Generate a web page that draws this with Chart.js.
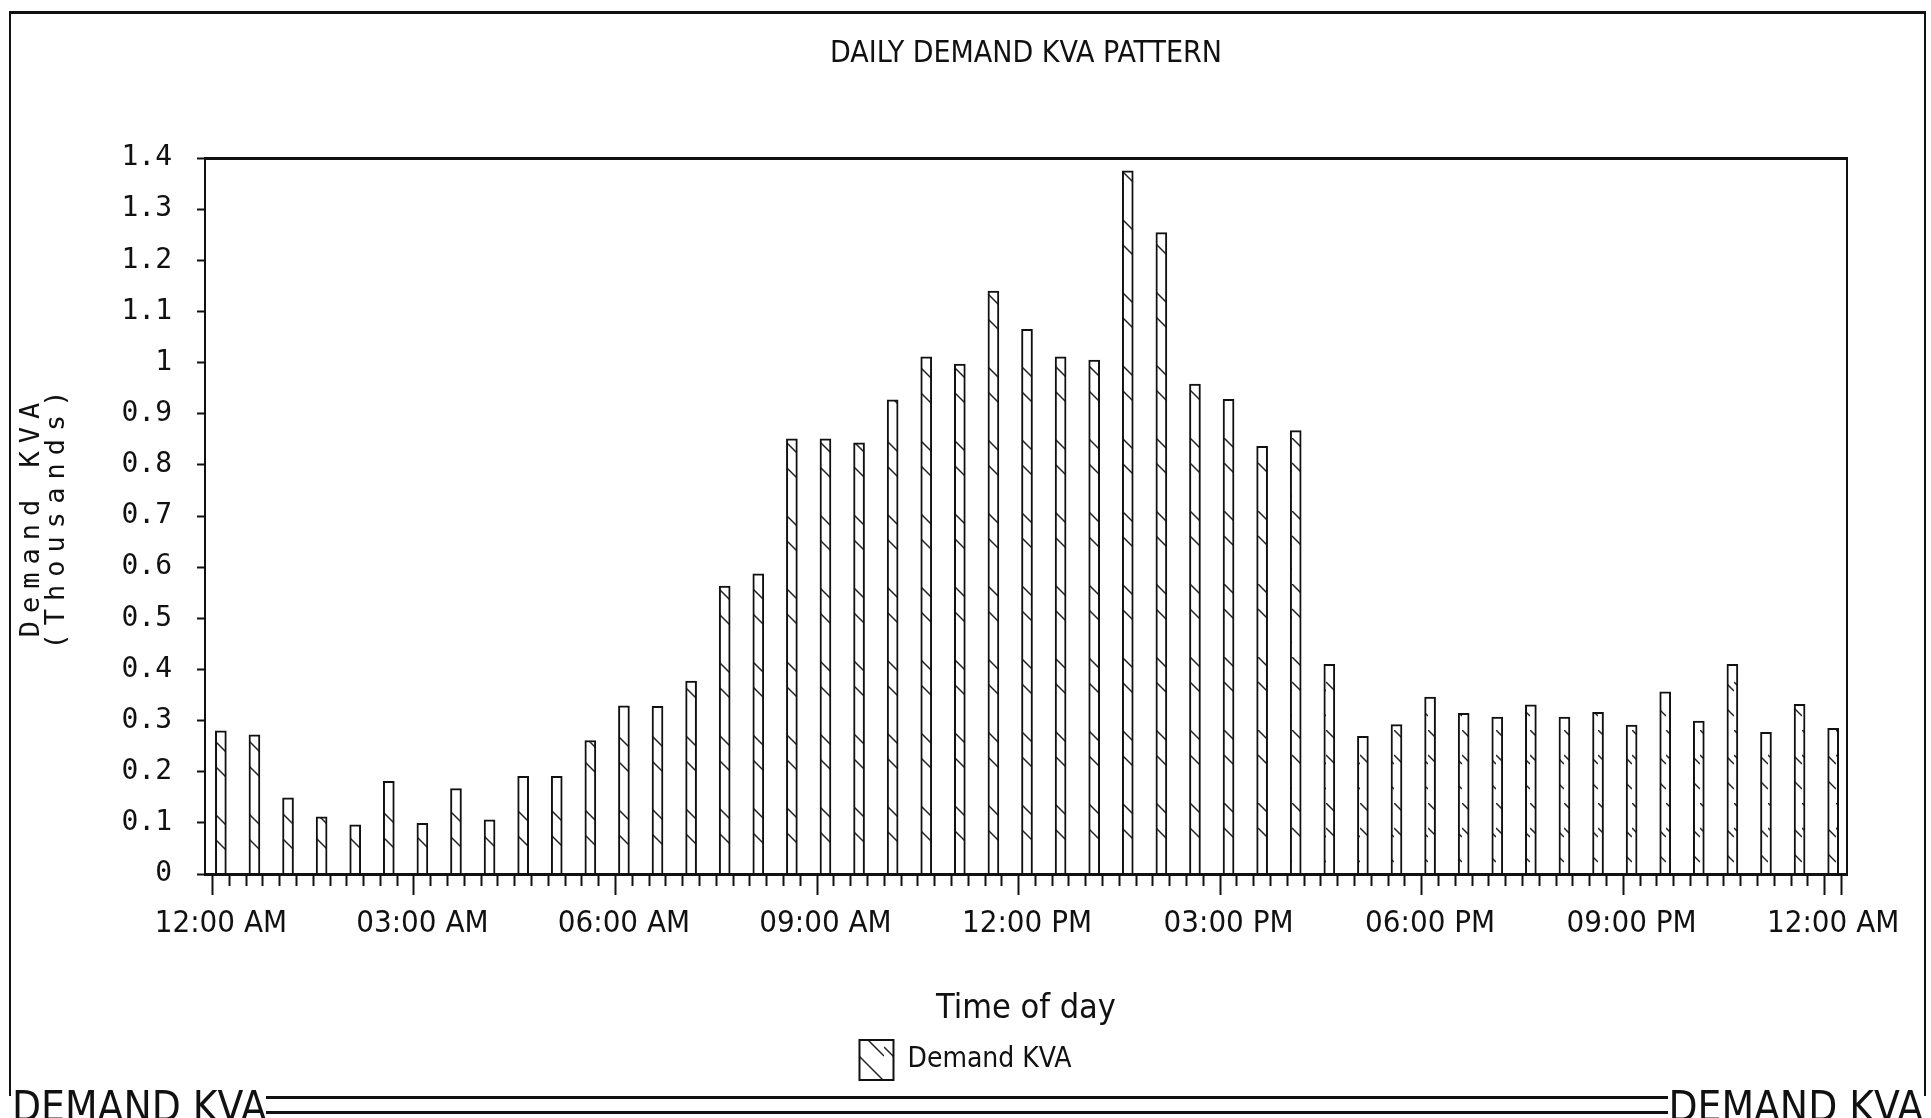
<!DOCTYPE html>
<html>
<head>
<meta charset="utf-8">
<title>Daily Demand KVA Pattern</title>
<script src="https://cdn.jsdelivr.net/npm/chart.js@4.4.1/dist/chart.umd.min.js"></script>
<style>
  html, body { margin: 0; padding: 0; background: #fff; }
  #wrap { position: relative; width: 1931px; height: 1118px; overflow: hidden; background: #fff; }
  #demand { position: absolute; left: 0; top: 0; }
  .frame { position: absolute; left: 9px; top: 11px; width: 1913px; height: 1082px;
           border-left: 2px solid #111; border-right: 2px solid #111; border-top: 3px solid #111; }
  .foot { position: absolute; top: 1082px; line-height: 42px; color: #111;
          font: 42px 'Liberation Sans Narrow', 'DejaVu Sans Condensed', 'Liberation Sans', sans-serif; }
  .foot.left { left: 12px; }
  .foot.right { right: 8px; }
  .rule { position: absolute; left: 266px; width: 1402px; top: 1096px; height: 12px;
          border-top: 3px solid #111; border-bottom: 3px solid #111; }
</style>
</head>
<body>
<div id="wrap">
  <canvas id="demand" width="1931" height="1118"></canvas>
  <div class="frame"></div>
  <div class="foot left">DEMAND KVA</div>
  <div class="rule"></div>
  <div class="foot right">DEMAND KVA</div>
</div>
<script>
// half-hour readings, hours after midnight
const halfHours = [0, 0.5, 1, 1.5, 2, 2.5, 3, 3.5, 4, 4.5, 5, 5.5, 6, 6.5, 7, 7.5, 8, 8.5, 9, 9.5,
  10, 10.5, 11, 11.5, 12, 12.5, 13, 13.5, 14, 14.5, 15, 15.5, 16, 16.5, 17, 17.5, 18, 18.5, 19, 19.5,
  20, 20.5, 21, 21.5, 22, 22.5, 23, 23.5, 24];

// demand in thousands of KVA
const demandKva = [0.28, 0.272, 0.149, 0.112, 0.096, 0.181, 0.099, 0.167, 0.106, 0.191,
  0.191, 0.261, 0.329, 0.328, 0.377, 0.563, 0.587, 0.851, 0.851, 0.843,
  0.927, 1.011, 0.997, 1.14, 1.065, 1.011, 1.005, 1.375, 1.254, 0.958,
  0.928, 0.836, 0.867, 0.41, 0.269, 0.292, 0.346, 0.314, 0.307, 0.331,
  0.307, 0.316, 0.291, 0.356, 0.299, 0.41, 0.277, 0.332, 0.285];

const timeLabels = ['12:00 AM', '03:00 AM', '06:00 AM', '09:00 AM', '12:00 PM',
  '03:00 PM', '06:00 PM', '09:00 PM', '12:00 AM'];

const yMax = 1.4;
const yStep = 0.1;

const narrow = "'Liberation Sans Narrow', 'DejaVu Sans Condensed', 'Liberation Sans', sans-serif";
const mono = "'DejaVu Sans Mono', monospace";
const ink = '#111';

const isMajor = (v) => Math.abs(v / 3 - Math.round(v / 3)) < 1e-6;

// back-slash hatching like the plotter fill
function hatch() {
  const c = document.createElement('canvas');
  c.width = 34;
  c.height = 73;
  const g = c.getContext('2d');
  g.fillStyle = '#fff';
  g.fillRect(0, 0, 34, 73);
  g.strokeStyle = '#222';
  g.lineWidth = 1.5;
  g.beginPath();
  g.moveTo(0, 0); g.lineTo(34, 34);
  g.moveTo(0, 25); g.lineTo(34, 59);
  g.stroke();
  return g.createPattern(c, 'repeat');
}

// the y title on the original is set very wide
const spacedTitle = {
  id: 'spacedTitle',
  beforeDraw(chart) {
    const s = chart.scales.y;
    if (!s || s._spaced) return;
    const draw = s.drawTitle;
    s.drawTitle = function () {
      this.ctx.save();
      this.ctx.letterSpacing = '8px';
      draw.call(this);
      this.ctx.restore();
    };
    s._spaced = true;
  }
};

Chart.defaults.font.family = narrow;
Chart.defaults.color = ink;

new Chart(document.getElementById('demand'), {
  type: 'bar',
  data: {
    datasets: [{
      label: 'Demand KVA',
      data: halfHours.map((h, i) => ({ x: h, y: demandKva[i] })),
      xAxisID: 'x',
      yAxisID: 'y',
      backgroundColor: hatch(),
      borderColor: ink,
      borderWidth: 2,
      barThickness: 11
    }]
  },
  options: {
    responsive: false,
    animation: false,
    layout: { padding: { left: 0, right: 0, top: 0, bottom: 28 } },
    plugins: {
      tooltip: { enabled: false },
      legend: {
        position: 'bottom',
        labels: { boxWidth: 34, boxHeight: 40, padding: 10, color: ink, font: { family: narrow, size: 28 } }
      }
    },
    scales: {
      x: {
        type: 'linear',
        position: 'bottom',
        min: -0.11,
        max: 24.08,
        grid: {
          drawOnChartArea: false,
          tickLength: 21,
          tickWidth: 2,
          tickColor: ink,
          // short marks every quarter hour, long ones every three hours
          tickBorderDash: (c) => (c.tick && !isMajor(c.tick.value) ? [10, 40] : [])
        },
        border: { color: ink, width: 3, z: 1 },
        ticks: {
          stepSize: 0.25,
          includeBounds: false,
          autoSkip: false,
          maxRotation: 0,
          minRotation: 0,
          padding: 10,
          color: ink,
          font: { family: narrow, size: 31 },
          callback: (v) => (isMajor(v) ? timeLabels[Math.round(v / 3)] : '')
        },
        title: {
          display: true,
          text: 'Time of day',
          color: ink,
          font: { family: narrow, size: 34 },
          padding: { top: 37, bottom: 0 }
        }
      },
      x2: {
        type: 'linear',
        position: 'top',
        display: true,
        min: 0,
        max: 1,
        grid: { display: false, drawTicks: false },
        border: { color: ink, width: 3 },
        ticks: { display: false },
        title: {
          display: true,
          text: 'DAILY DEMAND KVA PATTERN',
          color: ink,
          font: { family: narrow, size: 30 },
          padding: { top: 36, bottom: 10 }
        },
        afterFit: (s) => { s.height = 158; }
      },
      y: {
        type: 'linear',
        position: 'left',
        min: 0,
        max: yMax,
        grid: { drawOnChartArea: false, tickLength: 8, tickWidth: 2, tickColor: ink },
        border: { color: ink, width: 2 },
        ticks: {
          stepSize: yStep,
          padding: 25,
          color: ink,
          font: { family: mono, size: 28 },
          callback: (v) => String(+v.toFixed(1))
        },
        title: {
          display: true,
          text: ['Demand KVA', '(Thousands)'],
          color: ink,
          font: { family: mono, size: 27, lineHeight: 0.95 },
          padding: { top: 19, bottom: 0 }
        },
        afterFit: (s) => { s.width = 205; }
      },
      y2: {
        type: 'linear',
        position: 'right',
        display: true,
        grid: { display: false, drawTicks: false },
        ticks: { display: false },
        border: { color: ink, width: 2 },
        afterFit: (s) => { s.width = 84; }
      }
    }
  },
  plugins: [spacedTitle]
});
</script>
</body>
</html>
